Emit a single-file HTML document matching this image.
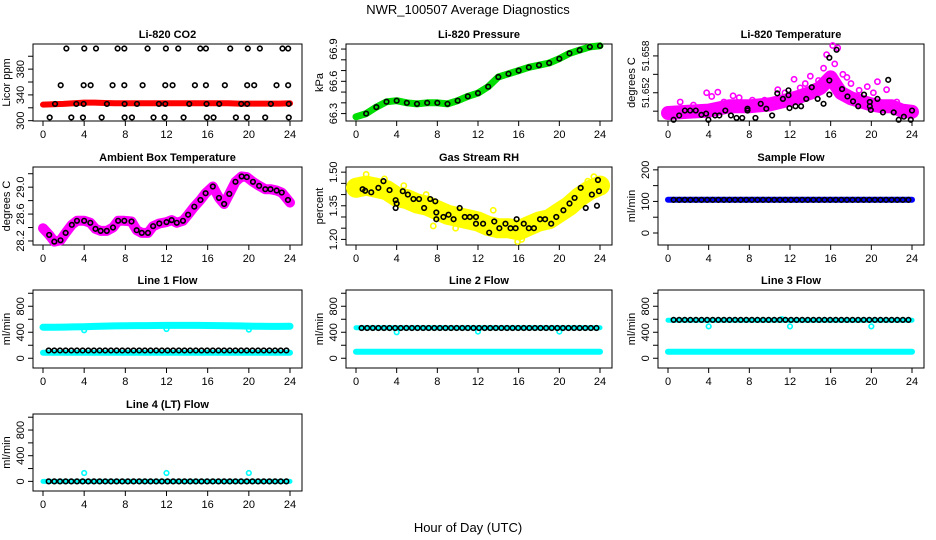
<!DOCTYPE html>
<html><head><meta charset="utf-8">
<style>
html,body{margin:0;padding:0;background:#fff;}
svg{display:block;font-family:"Liberation Sans",Arial,sans-serif;}
</style></head>
<body>
<svg id="chart" width="936" height="540" viewBox="0 0 936 540" xmlns="http://www.w3.org/2000/svg">
<rect width="936" height="540" fill="#fff"/>
<text x="468" y="14" text-anchor="middle" font-size="13">NWR_100507  Average Diagnostics</text>
<text x="468" y="532" text-anchor="middle" font-size="13">Hour of Day (UTC)</text>
</svg>
<script>
// ---------- data ----------
const xTicks = [0,4,8,12,16,20,24];
// CO2
const co2TopHours = [2.27,4.01,5.15,7.25,7.9,10.16,11.94,13.14,15.28,15.83,18.19,19.9,21.07,23.27,23.82];
const co2MidHours = [1.72,3.95,4.63,6.76,7.9,9.68,11.88,12.59,14.76,15.83,17.67,19.84,20.52,22.69,23.82];
const co2RedHours = [1.17,3.24,3.95,6.21,7.93,9.13,11.26,11.88,14.21,15.89,17.12,19.26,19.84,22.14,23.88];
const co2LowHours = [0.65,2.75,3.88,5.7,7.93,8.64,10.74,11.81,13.66,15.92,16.57,18.74,19.81,21.59,23.88];
const co2Levels = [412,355,326,305];
const co2RedBand = [325,325.5,326,327,328,328,327.5,327,327,327,327,327,327,327,327,327,327,327,327,326.5,326.5,326.5,326.5,326.5,327];
// pressure (hourly)
const pressure = [66.27,66.30,66.36,66.41,66.42,66.40,66.39,66.40,66.40,66.39,66.42,66.46,66.49,66.55,66.64,66.67,66.70,66.73,66.75,66.77,66.81,66.86,66.89,66.92,66.93];
// Li-820 temperature
const tempBandHours = [0,2,4,6,8,10,12,13,14,15,16,17,18,19,20,21,22,23,24];
const tempBand = [51.6487,51.6489,51.6491,51.6498,51.6498,51.6501,51.6509,51.6514,51.6520,51.6528,51.6545,51.6520,51.6511,51.6506,51.6501,51.6498,51.6498,51.6491,51.6489];
const tempPtsH = [0.55,1.1,1.66,2.18,2.73,3.28,3.75,3.97,4.63,5.05,5.64,6.19,6.74,7.3,7.82,7.82,8.6,9.12,9.67,10.24,10.75,11.3,11.85,11.85,11.95,12.54,13.09,13.6,14.14,14.72,15.3,15.87,15.87,15.87,16.58,17.12,17.65,18.2,18.71,19.28,19.85,19.85,19.95,20.6,21.14,21.66,22.2,22.69,23.2,23.88,24.0];
const tempPtsV = [51.6476,51.6483,51.6491,51.6491,51.6491,51.6484,51.6486,51.6476,51.6483,51.6483,51.6491,51.6483,51.6479,51.6479,51.6494,51.6491,51.6479,51.6502,51.6494,51.6483,51.6519,51.6510,51.6524,51.6516,51.6495,51.6498,51.6498,51.6510,51.6529,51.6510,51.6502,51.6540,51.6517,51.6577,51.6590,51.6526,51.6514,51.6506,51.6498,51.6517,51.6498,51.6505,51.6492,51.6510,51.6488,51.6541,51.6488,51.6476,51.6481,51.6476,51.6491];
const tempOutH = [1.2,3.8,4.9,6.4,8.3,10.8,11.5,12.4,13.5,14.0,15.3,15.6,16.2,16.4,16.7,17.2,17.6,18.0,19.6,20.6,21.5,4.3,7.0,9.5,2.5,5.5,9.0,13.0,14.8,18.8,20.2,22.5];
const tempOutV = [51.6505,51.6520,51.6521,51.6515,51.6508,51.6525,51.6520,51.6542,51.6535,51.6547,51.6560,51.6582,51.6597,51.6567,51.6593,51.6550,51.6545,51.6535,51.6530,51.6538,51.6525,51.6514,51.6512,51.6508,51.6500,51.6505,51.6503,51.6528,51.6540,51.6524,51.6520,51.6505];
// ambient box temperature
const ambHours = [0,0.6,1.1,1.7,2.2,2.8,3.3,4,4.6,5.1,5.6,6.2,6.8,7.3,7.9,8.6,9.1,9.6,10.2,10.7,11.3,12,12.5,13,13.6,14.1,14.7,15.3,15.8,16.5,17.1,17.6,18.1,18.7,19.3,19.8,20.4,21,21.6,22.1,22.7,23.2,23.8,24];
const ambVals = [28.39,28.29,28.19,28.21,28.32,28.44,28.5,28.5,28.47,28.38,28.35,28.35,28.4,28.5,28.5,28.49,28.36,28.32,28.32,28.42,28.46,28.48,28.51,28.47,28.5,28.59,28.71,28.81,28.91,29.01,28.84,28.75,28.9,29.08,29.16,29.15,29.08,29.02,28.97,28.97,28.95,28.92,28.81,28.77];
// gas stream RH
const rhBand = [1.43,1.44,1.43,1.42,1.39,1.38,1.36,1.35,1.33,1.31,1.30,1.29,1.28,1.26,1.25,1.25,1.24,1.26,1.28,1.29,1.32,1.35,1.39,1.42,1.44];
const rhPtsH = [0.65,0.9,1.5,2.2,2.7,3.3,3.9,4,3.9,4.6,5.1,5.65,6.2,6.7,7.3,7.8,7.9,7.9,8.6,9.1,9.6,10.2,10.7,11.2,11.8,11.8,12.5,13.1,13.6,14.1,14.7,15.2,15.7,15.8,16.5,17,17.5,18.1,18.6,19.2,19.7,20.4,21,21.5,22.1,22.6,23.2,23.7,23.8,23.9];
const rhPtsV = [1.424,1.417,1.41,1.43,1.46,1.42,1.375,1.36,1.34,1.415,1.40,1.38,1.38,1.34,1.38,1.37,1.32,1.29,1.30,1.31,1.29,1.34,1.30,1.30,1.30,1.27,1.27,1.23,1.28,1.25,1.27,1.25,1.25,1.29,1.27,1.25,1.25,1.29,1.29,1.27,1.30,1.33,1.36,1.385,1.43,1.34,1.40,1.35,1.465,1.415];
const rhOutH = [1.0,2.8,4.7,6.9,7.6,9.8,13.5,15.9,16.3,22.8,23.4];
const rhOutV = [1.49,1.47,1.44,1.40,1.26,1.25,1.33,1.19,1.20,1.46,1.48];
// flows
const sampleFlow = 105;
const line1Upper = [478,478,480,482,485,490,494,497,500,502,503,504,505,505,505,505,504,502,500,497,494,492,490,490,492];
const line1Lower = 85, line1Black = 120;
const line1Dips = [[4,430],[12,450],[20,440]];
const line2Black = 465, line2Lower = 100, line2Start = 470;
const line2Dips = [[4,400],[12,410],[20,410]];
const line3Black = 590, line3Lower = 100, line3Start = 585;
const line3Dips = [[4,490],[11.2,600],[12,490],[20,490]];
const line4Black = 0;
const line4Spikes = [[4,130],[12,130],[20,130]];

// ---------- drawing ----------
const svg = document.getElementById('chart');
const NS = 'http://www.w3.org/2000/svg';
function mk(tag, attrs, parent){
  const e = document.createElementNS(NS, tag);
  for (const k in attrs) e.setAttribute(k, attrs[k]);
  (parent||svg).appendChild(e);
  return e;
}
const cols = [[33,302],[346,612],[658,924]];
const rows = [[44,121],[167,245],[290,368],[414,491]];

function panel(col,row,title,ylab,ylim,yTicks,yLabels,name,yfs){
  const [l,r] = cols[col], [t,b] = rows[row];
  const g = mk('g',{});
  
  
  const x0 = l+10, x1 = r-12;
  const P = {
    g, l, r, t, b,
    x: h => x0 + (h/24)*(x1-x0),
    y: v => b - (v-ylim[0])/(ylim[1]-ylim[0])*(b-t)
  };
  const box = mk('rect',{x:l,y:t,width:r-l,height:b-t,fill:'none',stroke:'#000','stroke-width':1},g);
  
  
  const tt = mk('text',{x:(l+r)/2,y:t-6,'text-anchor':'middle','font-size':11,'font-weight':'bold'},g);
  tt.textContent = title;
  
  
  xTicks.forEach(h=>{
    const X = P.x(h);
    mk('line',{x1:X,y1:b,x2:X,y2:b+5,stroke:'#000'},g);
    const tx = mk('text',{x:X,y:b+17,'text-anchor':'middle','font-size':11},g);
    tx.textContent = h;
    
    
  });
  const yT = yTicks.map(P.y);
  mk('line',{x1:l,y1:Math.min(...yT),x2:l,y2:Math.max(...yT),stroke:'#000'},g);
  yTicks.forEach((v,i)=>{
    const Y = P.y(v);
    mk('line',{x1:l-5,y1:Y,x2:l,y2:Y,stroke:'#000'},g);
    if (yLabels[i] !== ''){
      const ty = mk('text',{x:l-9,y:Y,'text-anchor':'middle','font-size':yfs||11,transform:`rotate(-90 ${l-9} ${Y})`},g);
      ty.textContent = yLabels[i];
      
      
    }
  });
  const yl = mk('text',{x:l-23,y:(t+b)/2,'text-anchor':'middle','font-size':11,transform:`rotate(-90 ${l-23} ${(t+b)/2})`},g);
  yl.textContent = ylab;
  
  
  return P;
}
function band(P,hours,vals,color,w,name){
  const pts = hours.map((h,i)=>P.x(h).toFixed(1)+','+P.y(vals[i]).toFixed(1)).join(' ');
  const e = mk('polyline',{points:pts,fill:'none',stroke:color,'stroke-width':w,'stroke-linejoin':'round','stroke-linecap':'round'},P.g);
  
  
}
function pts(P,hours,vals,color,name,r){
  hours.forEach((h,i)=>{
    const c = mk('circle',{cx:P.x(h),cy:P.y(vals[i]),r:r||2.3,fill:'none',stroke:color,'stroke-width':1.6},P.g);
    
    
  });
}
const hourly = Array.from({length:25},(_,i)=>i);
const sampleTimes = Array.from({length:43},(_,i)=>0.55+i*0.55);
const const_ = (n,v)=>Array(n).fill(v);

let P = panel(0,0,'Li-820 CO2','Licor ppm',[299.5,419],[300,320,340,360,380,400],['300','','340','','380',''],'co2');
band(P,hourly,co2RedBand,'#ff0000',6,'co2-red-band');
pts(P,co2TopHours,const_(15,co2Levels[0]),'#000','co2-point');
pts(P,co2MidHours,const_(15,co2Levels[1]),'#000','co2-point');
pts(P,co2RedHours,const_(15,co2Levels[2]),'#000','co2-point');
pts(P,co2LowHours,const_(15,co2Levels[3]),'#000','co2-point');

P = panel(1,0,'Li-820 Pressure','kPa',[66.231,66.947],[66.3,66.4,66.5,66.6,66.7,66.8,66.9],['66.3','','','66.6','','','66.9'],'pressure');
band(P,hourly,pressure,'#00dd00',7,'pressure-band');
pts(P,hourly.slice(1),pressure.slice(1),'#000','pressure-point');

P = panel(2,0,'Li-820 Temperature','degrees C',[51.6474,51.65994],[51.649,51.652,51.655,51.658],['','51.652','','51.658'],'li820-temperature',10);
band(P,tempBandHours,tempBand,'#ff00ff',14,'temp-band');
pts(P,tempOutH,tempOutV,'#ff00ff','temp-magenta-point',2.6);
pts(P,tempPtsH,tempPtsV,'#000','temp-point');

P = panel(0,1,'Ambient Box Temperature','degrees C',[28.14,29.3],[28.2,28.4,28.6,28.8,29.0,29.2],['28.2','','28.6','','29.0',''],'ambient');
band(P,ambHours,ambVals,'#ff00ff',10,'ambient-band');
pts(P,ambHours.slice(1,-1),ambVals.slice(1,-1),'#000','ambient-point');

P = panel(1,1,'Gas Stream RH','percent',[1.175,1.523],[1.20,1.25,1.30,1.35,1.40,1.45,1.50],['1.20','','','1.35','','','1.50'],'rh');
band(P,hourly,rhBand,'#ffff00',20,'rh-band');
pts(P,rhOutH,rhOutV,'#ffff00','rh-yellow-point',2.6);
pts(P,rhPtsH,rhPtsV,'#000','rh-point');

P = panel(2,1,'Sample Flow','ml/min',[-38,209],[0,50,100,150,200],['0','','100','','200'],'sample-flow');
band(P,[0,24],[sampleFlow,sampleFlow],'#0000ff',6,'sample-flow-band');
pts(P,sampleTimes,const_(43,sampleFlow),'#000','sample-flow-point');

const flowLim = [-150,1050], flowTicks=[0,200,400,600,800,1000], flowLabels=['0','','400','','800',''];
P = panel(0,2,'Line 1 Flow','ml/min',flowLim,flowTicks,flowLabels,'line1');
band(P,hourly,line1Upper,'#00ffff',7,'line1-upper-band');
band(P,[0,24],[line1Lower,line1Lower],'#00ffff',6,'line1-lower-band');
pts(P,line1Dips.map(d=>d[0]),line1Dips.map(d=>d[1]),'#00ffff','line1-dip');
pts(P,sampleTimes,const_(43,line1Black),'#000','line1-point');

P = panel(1,2,'Line 2 Flow','ml/min',flowLim,flowTicks,flowLabels,'line2');
band(P,[0,24],[line2Start,line2Start],'#00ffff',5,'line2-upper-band');
band(P,[0,24],[line2Lower,line2Lower],'#00ffff',6,'line2-lower-band');
pts(P,line2Dips.map(d=>d[0]),line2Dips.map(d=>d[1]),'#00ffff','line2-dip');
pts(P,sampleTimes,const_(43,line2Black),'#000','line2-point');

P = panel(2,2,'Line 3 Flow','ml/min',flowLim,flowTicks,flowLabels,'line3');
band(P,[0,24],[line3Start,line3Start],'#00ffff',5,'line3-upper-band');
band(P,[0,24],[line3Lower,line3Lower],'#00ffff',6,'line3-lower-band');
pts(P,line3Dips.map(d=>d[0]),line3Dips.map(d=>d[1]),'#00ffff','line3-dip');
pts(P,sampleTimes,const_(43,line3Black),'#000','line3-point');

P = panel(0,3,'Line 4 (LT) Flow','ml/min',flowLim,flowTicks,flowLabels,'line4');
band(P,[0,24],[line4Black,line4Black],'#00ffff',5,'line4-band');
pts(P,line4Spikes.map(d=>d[0]),line4Spikes.map(d=>d[1]),'#00ffff','line4-spike');
pts(P,sampleTimes,const_(43,line4Black),'#000','line4-point');
</script>
</body></html>
